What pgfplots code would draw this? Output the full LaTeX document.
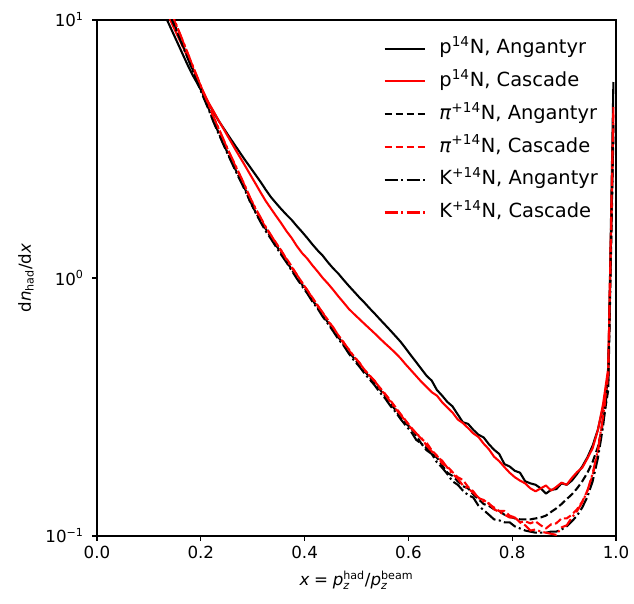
\documentclass[border=0pt]{standalone}
\usepackage{pgfplots}
\pgfplotsset{compat=1.18}
\usepackage{pgfplotstable}
\usepackage{fontspec}
\usepackage{amsmath}
\setmainfont{DejaVu Sans}

\pgfplotstableread{
x     pA    pC    piA   piC   KA    KC
0.125 11.1  11.7  12.9  13.2  12.7  13.4
0.135 10.0  10.7  11.5  11.8  11.3  11.9
0.145 9.04  9.62  10.1  10.4  9.95  10.5
0.155 8.17  8.71  9.02  9.30  8.90  9.35
0.165 7.38  7.91  8.04  8.30  7.95  8.35
0.175 6.67  7.16  7.16  7.40  7.10  7.42
0.185 6.08  6.47  6.38  6.58  6.30  6.60
0.195 5.60  5.83  5.71  5.85  5.62  5.90
0.205 5.15  5.26  5.09  5.22  5.02  5.25
0.215 4.75  4.78  4.55  4.68  4.50  4.70
0.225 4.38  4.41  4.03  4.18  4.00  4.20
0.235 4.05  4.06  3.63  3.76  3.60  3.78
0.245 3.78  3.75  3.27  3.38  3.24  3.40
0.255 3.52  3.46  2.95  3.05  2.93  3.06
0.265 3.29  3.19  2.68  2.76  2.65  2.78
0.275 3.07  2.95  2.43  2.50  2.41  2.52
0.285 2.87  2.73  2.22  2.27  2.19  2.28
0.295 2.69  2.52  1.97  2.04  1.99  2.05
0.305 2.52  2.33  1.81  1.86  1.80  1.87
0.315 2.36  2.15  1.67  1.70  1.65  1.72
0.325 2.20  1.99  1.55  1.57  1.52  1.58
0.335 2.06  1.86  1.44  1.46  1.42  1.47
0.345 1.95  1.74  1.34  1.37  1.32  1.36
0.355 1.85  1.63  1.25  1.27  1.23  1.28
0.365 1.76  1.52  1.16  1.19  1.15  1.18
0.375 1.68  1.43  1.08  1.11  1.07  1.10
0.385 1.59  1.33  1.01  1.03  0.995 1.03
0.395 1.51  1.25  0.944 0.962 0.930 0.958
0.405 1.43  1.19  0.881 0.895 0.872 0.900
0.415 1.35  1.12  0.822 0.840 0.810 0.835
0.425 1.28  1.06  0.769 0.785 0.762 0.780
0.435 1.22  1.00  0.719 0.730 0.708 0.735
0.445 1.15  0.951 0.673 0.688 0.665 0.680
0.455 1.09  0.900 0.630 0.640 0.622 0.645
0.465 1.04  0.849 0.590 0.600 0.580 0.598
0.475 0.984 0.804 0.553 0.565 0.548 0.560
0.485 0.933 0.760 0.519 0.525 0.510 0.530
0.495 0.887 0.726 0.489 0.498 0.480 0.495
0.505 0.843 0.695 0.461 0.470 0.455 0.472
0.515 0.804 0.665 0.437 0.442 0.428 0.440
0.525 0.764 0.637 0.413 0.420 0.405 0.418
0.535 0.728 0.610 0.391 0.398 0.384 0.400
0.545 0.692 0.583 0.370 0.376 0.360 0.372
0.555 0.659 0.558 0.348 0.356 0.342 0.354
0.565 0.627 0.535 0.327 0.336 0.320 0.332
0.575 0.596 0.512 0.308 0.316 0.303 0.312
0.585 0.566 0.488 0.288 0.297 0.284 0.295
0.595 0.533 0.462 0.273 0.280 0.268 0.278
0.605 0.501 0.439 0.262 0.264 0.254 0.262
0.615 0.472 0.417 0.245 0.250 0.236 0.250
0.625 0.444 0.396 0.228 0.238 0.228 0.240
0.635 0.418 0.378 0.220 0.230 0.215 0.224
0.645 0.400 0.361 0.209 0.215 0.208 0.213
0.655 0.368 0.350 0.201 0.205 0.193 0.203
0.665 0.350 0.330 0.188 0.191 0.184 0.196
0.675 0.331 0.315 0.176 0.186 0.174 0.184
0.685 0.318 0.301 0.171 0.177 0.163 0.174
0.695 0.296 0.283 0.163 0.169 0.158 0.167
0.705 0.276 0.274 0.156 0.165 0.150 0.157
0.715 0.272 0.262 0.153 0.155 0.144 0.153
0.725 0.258 0.250 0.145 0.149 0.141 0.147
0.735 0.247 0.242 0.139 0.140 0.131 0.141
0.745 0.241 0.228 0.133 0.138 0.126 0.136
0.755 0.227 0.217 0.131 0.133 0.121 0.134
0.765 0.216 0.203 0.127 0.129 0.116 0.127
0.775 0.208 0.195 0.125 0.125 0.115 0.124
0.785 0.190 0.185 0.121 0.125 0.113 0.121
0.795 0.186 0.176 0.119 0.120 0.113 0.118
0.805 0.179 0.169 0.117 0.118 0.109 0.118
0.815 0.176 0.164 0.116 0.113 0.107 0.113
0.825 0.163 0.160 0.116 0.114 0.105 0.110
0.835 0.160 0.153 0.116 0.112 0.104 0.105
0.845 0.158 0.149 0.117 0.114 0.103 0.106
0.855 0.153 0.153 0.118 0.110 0.103 0.104
0.865 0.146 0.157 0.120 0.107 0.103 0.103
0.875 0.151 0.150 0.124 0.111 0.104 0.102
0.885 0.152 0.155 0.128 0.112 0.104 0.101
0.895 0.160 0.161 0.133 0.117 0.106 0.108
0.905 0.158 0.158 0.139 0.117 0.109 0.110
0.915 0.164 0.168 0.145 0.121 0.114 0.118
0.925 0.174 0.177 0.153 0.127 0.120 0.125
0.935 0.186 0.184 0.163 0.136 0.129 0.135
0.945 0.202 0.200 0.176 0.150 0.142 0.150
0.955 0.224 0.219 0.194 0.172 0.163 0.175
0.965 0.258 0.257 0.221 0.210 0.200 0.215
0.975 0.316 0.324 0.275 0.285 0.265 0.290
0.985 0.402 0.447 0.368 0.420 0.400 0.430
0.995 5.75  4.0   3.6   4.4   4.0   4.6
}\data

\begin{document}
\begin{tikzpicture}
\useasboundingbox (-69.84pt,-48.24pt) rectangle (386.64pt,385.92pt);
\begin{axis}[
  at={(0pt,0pt)}, anchor=south west,
  scale only axis,
  width=373.68pt, height=371.52pt,
  xmin=0, xmax=1,
  ymode=log, ymin=0.1, ymax=10,
  xtick={0,0.2,0.4,0.6,0.8,1.0},
  xticklabel style={/pgf/number format/.cd, fixed, fixed zerofill, precision=1, assume math mode=true},
  ytick={0.1,1,10},
  yticklabels={10\textsuperscript{−1},10\textsuperscript{0},10\textsuperscript{1}},
  yticklabel style={xshift=-2.5pt},
  minor tick length=0pt,
  tick align=outside,
  tick pos=left,
  major tick length=3.5pt,
  tick style={line width=0.8pt, black},
  axis line style={line width=0.8pt},
  tick label style={font=\fontsize{12}{14}\selectfont},
  label style={font=\fontsize{12}{14}\selectfont},
  xlabel={$\textit{x}\mathrel{\text{=}}\textit{p}^{\text{had}}_{\textit{z}}\text{/}\textit{p}^{\text{beam}}_{\textit{z}}$},
  ylabel={$\text{d}\textit{n}_{\text{had}}\text{/d}\textit{x}$},
  xlabel style={at={(rel axis cs:0.5,-0.0853)}, anchor=center},
  ylabel style={at={(rel axis cs:-0.137,0.5)}, anchor=center, rotate=0},
  legend cell align=left,
  legend image code/.code={\draw[#1] (0pt,0pt) -- (28.8pt,0pt);},
  legend style={draw=none, fill=none, at={(rel axis cs:0.5515,0.9632)}, anchor=north west,
    font=\fontsize{14}{16}\selectfont, row sep=10.1pt, column sep=0pt, inner sep=0pt,
    nodes={inner sep=0pt, text height=10.5pt, text depth=3pt},
    /tikz/every odd column/.append style={column sep=10pt}},
  every axis plot/.append style={line width=1.5pt, line join=round},
]
\addplot[black, no markers] table[x=x,y=pA] {\data};
\addlegendentry{p\textsuperscript{14}N, Angantyr}
\addplot[red, no markers] table[x=x,y=pC] {\data};
\addlegendentry{p\textsuperscript{14}N, Cascade}
\addplot[black, no markers, dash pattern=on 5.55pt off 2.4pt] table[x=x,y=piA] {\data};
\addlegendentry{\textit{π}\textsuperscript{+14}N, Angantyr}
\addplot[red, no markers, dash pattern=on 5.55pt off 2.4pt] table[x=x,y=piC] {\data};
\addlegendentry{\textit{π}\textsuperscript{+14}N, Cascade}
\addplot[black, no markers, dash pattern=on 9.6pt off 2.4pt on 1.5pt off 2.4pt] table[x=x,y=KA] {\data};
\addlegendentry{K\textsuperscript{+14}N, Angantyr}
\addplot[red, no markers, dash pattern=on 9.6pt off 2.4pt on 1.5pt off 2.4pt] table[x=x,y=KC] {\data};
\addlegendentry{K\textsuperscript{+14}N, Cascade}
\end{axis}
\end{tikzpicture}
\end{document}
